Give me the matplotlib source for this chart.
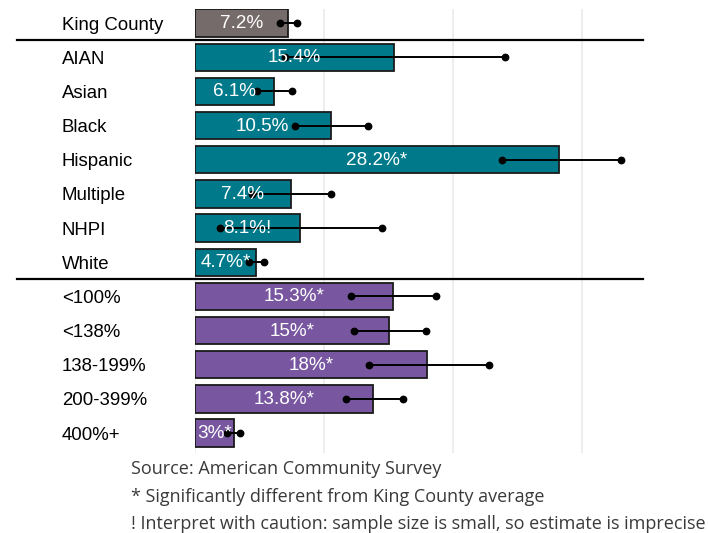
import matplotlib
matplotlib.use("Agg")
import matplotlib.pyplot as plt
import matplotlib.transforms as mtransforms

categories = ["King County", "AIAN", "Asian", "Black", "Hispanic", "Multiple", "NHPI", "White",
              "<100%", "<138%", "138-199%", "200-399%", "400%+"]
values = [7.2, 15.4, 6.1, 10.5, 28.2, 7.4, 8.1, 4.7, 15.3, 15.0, 18.0, 13.8, 3.0]
lower = [6.6, 7.0, 4.8, 7.75, 23.8, 4.4, 1.9, 4.2, 12.1, 12.35, 13.5, 11.7, 2.5]
upper = [7.9, 24.0, 7.5, 13.4, 33.0, 10.5, 14.5, 5.35, 18.7, 17.9, 22.8, 16.1, 3.5]
labels = ["7.2%", "15.4%", "6.1%", "10.5%", "28.2%*", "7.4%", "8.1%!", "4.7%*",
          "15.3%*", "15%*", "18%*", "13.8%*", "3%*"]
groups = ["total"] + ["race"] * 7 + ["income"] * 5
group_colors = {"total": "#766b6b", "race": "#007a8a", "income": "#7857a0"}
footer = ["Source: American Community Survey",
          "* Significantly different from King County average",
          "! Interpret with caution: sample size is small, so estimate is imprecise"]

W, H = 708, 533
fig = plt.figure(figsize=(W / 100, H / 100), dpi=100)
ax = fig.add_axes([195 / W, 1 - 453 / H, 448 / W, 444 / H])

n = len(categories)
ys = list(range(n))
ax.set_xlim(0, 34.7)
ax.set_ylim(12.585, -0.41)

for gx in [0, 10, 20, 30]:
    ax.axvline(gx, color="#ebebeb", lw=1.2, zorder=0)

colors = [group_colors[g] for g in groups]
ax.barh(ys, values, height=0.8, color=colors, edgecolor="#1a1a1a", linewidth=1.3, zorder=2)

for y, lo, hi in zip(ys, lower, upper):
    ax.plot([lo, hi], [y, y], color="black", lw=1.4, zorder=3,
            marker="o", markersize=4.6, markerfacecolor="black", markeredgecolor="black")

for y, v, lab in zip(ys, values, labels):
    ax.text(v / 2, y - 0.04, lab, color="white", ha="center", va="center_baseline", fontsize=13.6,
            family=["Liberation Sans", "DejaVu Sans"], zorder=4, clip_on=True)

trans = mtransforms.blended_transform_factory(ax.transAxes, ax.transData)
for y, cat in zip(ys, categories):
    ax.text(-133 / 448, y, cat, transform=trans, ha="left", va="center_baseline", fontsize=13.4,
            family=["Liberation Sans", "DejaVu Sans"], color="black")

for sep in [0.5, 7.5]:
    ax.plot([-178 / 448, 1.0], [sep, sep], transform=trans, color="black", lw=1.6,
            clip_on=False, zorder=5)

for s in ax.spines.values():
    s.set_visible(False)
ax.set_xticks([])
ax.set_yticks([])

for i, line in enumerate(footer):
    fig.text(131 / W, 1 - (469 + 27.5 * i) / H, line, ha="left", va="center",
             fontsize=13.0, family=["Open Sans", "DejaVu Sans"], color="#3a3a3a")

fig.savefig("out.png", dpi=100)
